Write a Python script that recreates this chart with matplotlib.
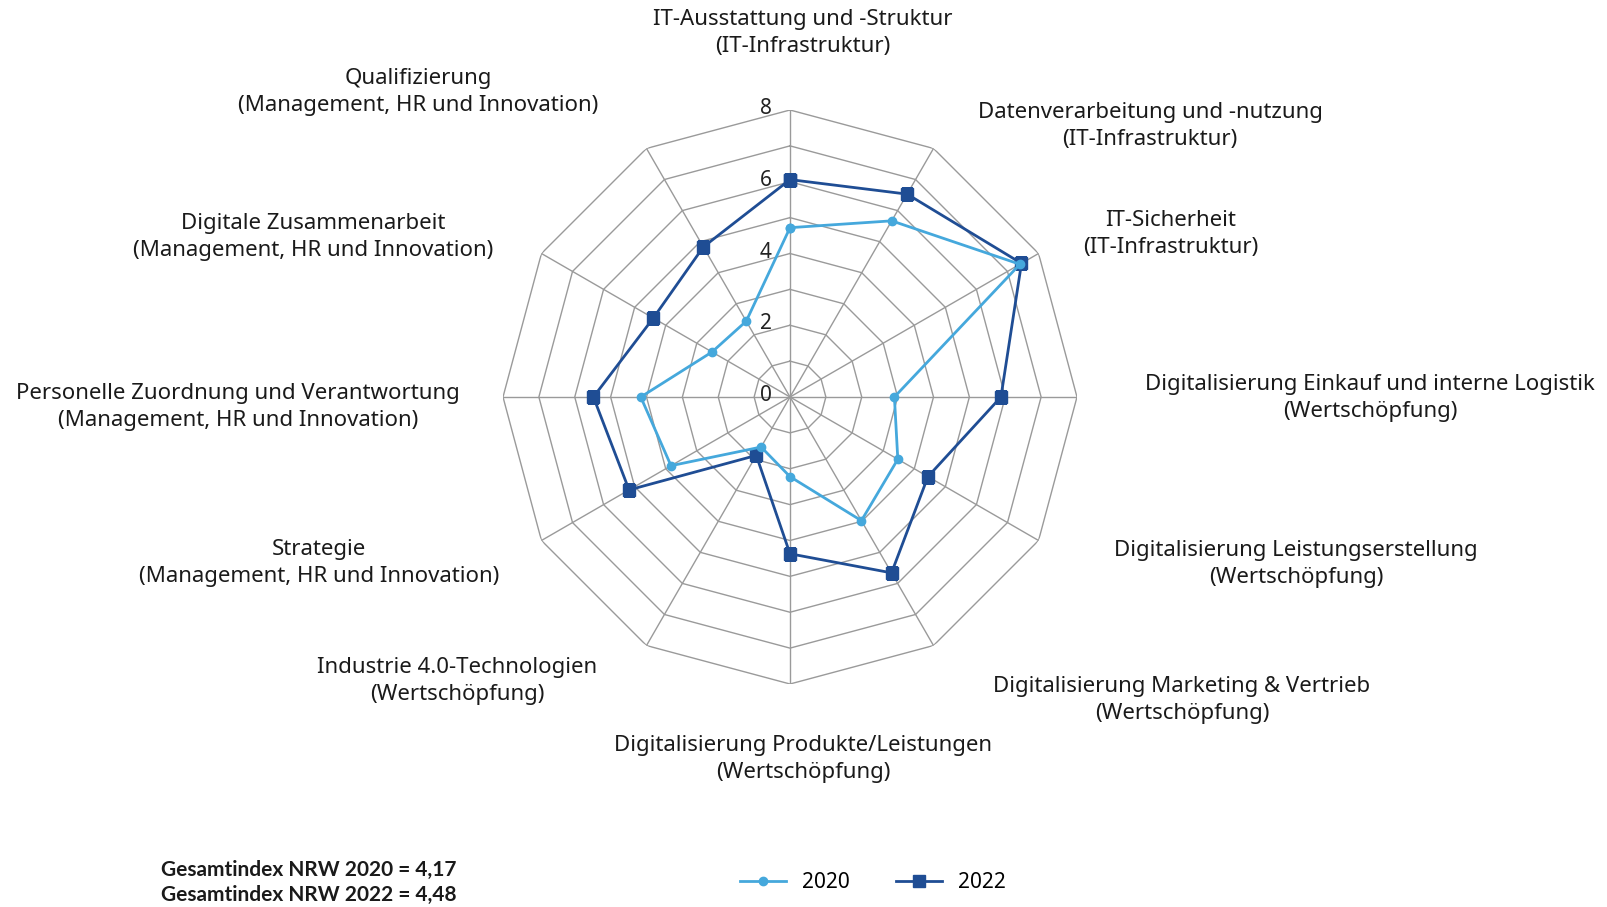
import numpy as np
import matplotlib
matplotlib.use("Agg")
from matplotlib import pyplot as plt

# axes (clockwise from top) and their labels
categories = [
    "IT-Ausstattung und -Struktur\n(IT-Infrastruktur)",
    "Datenverarbeitung und -nutzung\n(IT-Infrastruktur)",
    "IT-Sicherheit\n(IT-Infrastruktur)",
    "Digitalisierung Einkauf und interne Logistik\n(Wertschöpfung)",
    "Digitalisierung Leistungserstellung\n(Wertschöpfung)",
    "Digitalisierung Marketing & Vertrieb\n(Wertschöpfung)",
    "Digitalisierung Produkte/Leistungen\n(Wertschöpfung)",
    "Industrie 4.0-Technologien\n(Wertschöpfung)",
    "Strategie\n(Management, HR und Innovation)",
    "Personelle Zuordnung und Verantwortung\n(Management, HR und Innovation)",
    "Digitale Zusammenarbeit\n(Management, HR und Innovation)",
    "Qualifizierung\n(Management, HR und Innovation)",
]
vals_2020 = [4.72, 5.67, 7.40, 2.91, 3.47, 3.98, 2.22, 1.61, 3.83, 4.16, 2.51, 2.44]
vals_2022 = [6.06, 6.53, 7.45, 5.88, 4.44, 5.66, 4.37, 1.88, 5.18, 5.48, 4.40, 4.83]
ring_levels = [1, 2, 3, 4, 5, 6, 7, 8]
tick_labels = [0, 2, 4, 6, 8]

# label block centers in pixels
label_pos = [
    (803, 33), (1150, 126), (1171, 234), (1370, 398), (1296, 564), (1182, 700),
    (803, 759), (457, 681), (319, 563), (238, 407), (313, 237), (418, 92),
]

W, H = 1608, 907
plt.rcParams['font.family'] = ['Noto Sans', 'DejaVu Sans']
fig = plt.figure(figsize=(W / 100, H / 100), dpi=100)

cx, cy, R = 790, 397, 287
ax = fig.add_axes([(cx - R) / W, 1 - (cy + R) / H, 2 * R / W, 2 * R / H], projection='polar')
ax.set_theta_offset(np.pi / 2)
ax.set_theta_direction(-1)
ax.set_ylim(0, 8)
ax.grid(False)
ax.spines['polar'].set_visible(False)
ax.set_xticks([])
ax.set_yticks([])
ax.patch.set_alpha(0)

n = len(categories)
theta = np.arange(n) * 2 * np.pi / n
theta_c = np.append(theta, theta[0])

grid_col = '#9a9a9a'
for lvl in ring_levels:
    ax.plot(theta_c, [lvl] * (n + 1), color=grid_col, lw=1.0, zorder=1)
for t in theta:
    ax.plot([t, t], [0, 8], color=grid_col, lw=1.0, zorder=1)

for v in tick_labels:
    ax.annotate(str(v), xy=(0, v), xytext=(-13, 1), textcoords='offset points',
                ha='right', va='center', fontsize=15, color='#222222')

c22 = '#1f4d94'
c20 = '#45a8dc'
ax.plot(theta_c, vals_2022 + vals_2022[:1], color=c22, lw=2.0, marker='s', ms=8.5,
        label='2022', zorder=3)
ax.plot(theta_c, vals_2020 + vals_2020[:1], color=c20, lw=2.0, marker='o', ms=6,
        label='2020', zorder=4)

for txt, (px, py) in zip(categories, label_pos):
    fig.text(px / W, 1 - py / H, txt, ha='center', va='center', fontsize=16,
             linespacing=1.42, color='#1a1a1a')

fig.text(161 / W, 1 - 870 / H, "Gesamtindex NRW 2020 = 4,17", fontsize=15,
         fontweight='bold', family='Lato', va='center', ha='left', color='#1a1a1a')
fig.text(161 / W, 1 - 895 / H, "Gesamtindex NRW 2022 = 4,48", fontsize=15,
         fontweight='bold', family='Lato', va='center', ha='left', color='#1a1a1a')

h, l = ax.get_legend_handles_labels()
fig.legend(h[::-1], l[::-1], loc='center', bbox_to_anchor=(873 / W, 1 - 883 / H), ncol=2,
           frameon=False, fontsize=15, handlelength=2.2, columnspacing=2.2)

fig.savefig('out.png', dpi=100)
plt.close()
